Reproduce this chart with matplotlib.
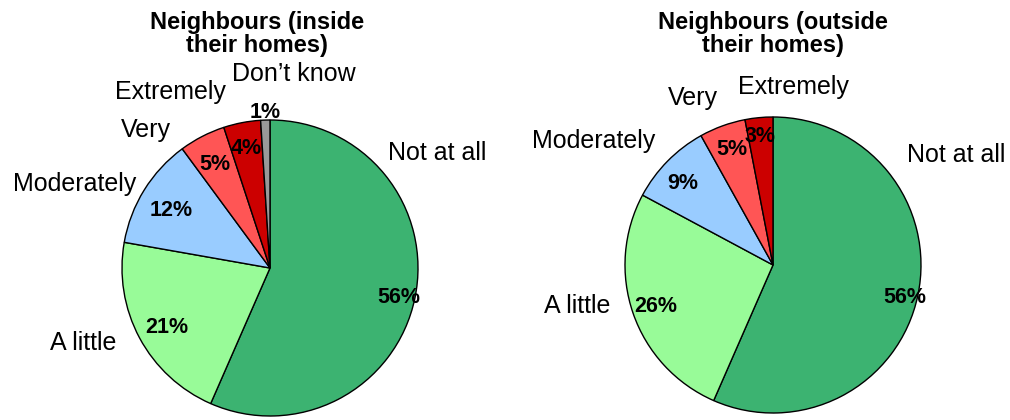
import matplotlib
matplotlib.use("Agg")
import matplotlib.pyplot as plt

plt.rcParams['font.family'] = ['Liberation Sans', 'DejaVu Sans']

# ---- data ----
titles = ["Neighbours (inside\ntheir homes)", "Neighbours (outside\ntheir homes)"]
cats_inside = ["Not at all", "A little", "Moderately", "Very", "Extremely", "Don\u2019t know"]
vals_inside = [56, 21, 12, 5, 4, 1]
cats_outside = ["Not at all", "A little", "Moderately", "Very", "Extremely"]
vals_outside = [56, 26, 9, 5, 3]

colors = {"Not at all": "#3CB371", "A little": "#98FB98", "Moderately": "#99CCFF",
          "Very": "#FF5555", "Extremely": "#CC0000", "Don\u2019t know": "#999999"}

# ---- layout (pixel space) ----
W, H = 1010, 420
R = 148
centers = [(270, H - 268), (773, H - 265)]
title_pos = [(257, H - 34), (773, H - 34)]
# label offsets in radius units
lab_off = [
    [(1.13, 0.78), (-1.26, -0.51), (-1.32, 0.57), (-0.84, 0.93), (-0.67, 1.19), (0.16, 1.31)],
    [(1.24, 0.74), (-1.32, -0.28), (-1.21, 0.84), (-0.54, 1.13), (0.14, 1.20)],
]
pct_off = [
    [(0.87, -0.20), (-0.70, -0.40), (-0.67, 0.39), (-0.37, 0.70), (-0.16, 0.81), (-0.03, 1.05)],
    [(0.89, -0.22), (-0.79, -0.28), (-0.61, 0.55), (-0.28, 0.78), (-0.09, 0.87)],
]

fig = plt.figure(figsize=(W / 100, H / 100), dpi=100)
ax = fig.add_axes([0, 0, 1, 1])

datasets = [(cats_inside, vals_inside), (cats_outside, vals_outside)]
for i, (cats, vals) in enumerate(datasets):
    cx, cy = centers[i]
    wedges, _ = ax.pie(vals, colors=[colors[c] for c in cats], startangle=90,
                       counterclock=False, center=(cx, cy), radius=R,
                       wedgeprops=dict(edgecolor="black", linewidth=1.0), frame=True)
    for j, (c, v) in enumerate(zip(cats, vals)):
        lx, ly = lab_off[i][j]
        ax.text(cx + lx * R, cy + ly * R, c, ha="center", va="center", fontsize=18)
        px, py = pct_off[i][j]
        ax.text(cx + px * R, cy + py * R, f"{v}%", ha="center", va="center",
                fontsize=15.5, fontweight="bold")
    tx, ty = title_pos[i]
    ax.text(tx, ty, titles[i], ha="center", va="center", fontsize=17,
            fontweight="bold", linespacing=1.02)

ax.set_xlim(0, W)
ax.set_ylim(0, H)
ax.set_aspect("equal")
ax.axis("off")

fig.savefig("out.png", dpi=100)
